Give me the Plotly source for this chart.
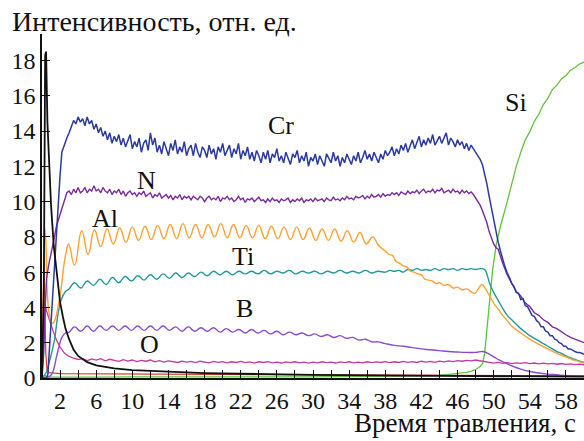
import numpy as np
import plotly.graph_objects as go

# ---------------- data: glow-discharge depth profile ----------------
# Cr: onset, then 0.25 s samples from 2.5 s to 60 s
cr_head_t = [0, 0.5, 0.65, 0.8, 1.0, 1.2, 1.4, 1.6, 1.8, 2.0, 2.2]
cr_head = [0, 0, 0.2, 1.5, 3.4, 5.2, 7.0, 8.6, 9.9, 11.5, 12.8]
cr_body = [
    13.3, 13.6, 13.9, 14.3, 14.6, 14.4, 14.8, 14.5,
    14.7, 14.3, 14.8, 14.4, 14.6, 14.1, 14.4, 13.9,
    14.2, 13.7, 14.0, 13.5, 13.9, 13.3, 13.7, 13.4,
    13.8, 13.2, 13.6, 13.1, 13.5, 13.8, 13.0, 13.4,
    13.1, 13.6, 12.8, 13.3, 13.5, 12.9, 13.9, 13.2,
    13.6, 12.8, 13.2, 12.7, 13.4, 13.0, 12.6, 13.3,
    12.9, 13.5, 12.7, 13.1, 12.8, 13.4, 12.6, 13.0,
    13.2, 12.6, 13.3, 12.8, 12.5, 13.1, 12.9, 12.5,
    13.2, 12.7, 13.0, 12.4, 13.1, 12.8, 13.3, 12.6,
    12.9, 13.2, 12.5, 13.0, 12.7, 13.3, 12.4, 12.9,
    12.6, 13.1, 12.4, 12.8, 12.3, 12.9, 12.6, 12.2,
    12.8, 12.4, 12.9, 12.2, 12.7, 12.5, 13.0, 12.3,
    12.6, 12.2, 12.8, 12.4, 12.1, 12.7, 12.5, 12.9,
    12.2, 12.6, 12.3, 12.8, 12.0, 12.5, 12.3, 12.7,
    12.1, 12.6, 12.3, 12.0, 12.7, 12.4, 12.2, 12.8,
    12.3, 12.6, 12.0, 12.5, 12.2, 12.7, 12.4, 12.1,
    12.6, 12.3, 12.8, 12.2, 12.5, 12.9, 12.4, 12.7,
    12.3, 12.8, 12.5, 12.2, 12.7, 12.4, 12.9, 12.6,
    12.8, 13.1, 12.6, 13.0, 12.7, 13.2, 12.9, 13.3,
    12.8, 13.2, 13.5, 13.0, 13.4, 13.7, 13.1, 13.5,
    13.2, 13.6, 13.3, 13.8, 13.2, 13.5, 13.7, 13.3,
    13.6, 13.9, 13.2, 13.6, 13.4, 13.1, 13.5, 13.2,
    13.4, 13.0, 13.3, 12.9, 13.2, 13.0, 12.8, 12.6,
    12.4, 12.1, 11.6, 11.0, 10.3, 9.6, 8.9, 8.2, 7.7, 7.2, 6.7, 6.3,
    5.95, 5.7, 5.35, 5.2, 4.85, 4.8, 4.45, 4.5, 4.1, 4.05, 3.8, 3.55,
    3.5, 3.25, 3.15, 2.9, 2.9, 2.65, 2.6, 2.4, 2.4, 2.2, 2.15, 2.0,
    1.95, 1.8, 1.8, 1.65, 1.65, 1.55, 1.5, 1.45, 1.45, 1.4, 1.35,
]

# N: onset, 0.25 s samples from 3 s to 47.75 s, then the decay
n_head_t = [0, 0.2, 0.35, 0.5, 0.7, 1.0, 1.3, 1.6, 1.9, 2.2, 2.5, 2.75]
n_head = [0, 1.5, 4.0, 5.6, 6.3, 7.0, 7.8, 8.6, 9.1, 9.5, 10.1, 10.5]
n_body = [
    10.6, 10.4, 10.7, 10.5, 10.8, 10.5, 10.6, 10.8,
    10.5, 10.7, 10.6, 10.9, 10.6, 10.7, 10.5, 10.8,
    10.6, 10.5, 10.7, 10.4, 10.6, 10.5, 10.7, 10.4,
    10.6, 10.3, 10.5, 10.6, 10.4, 10.5, 10.3, 10.5,
    10.4, 10.6, 10.3, 10.4, 10.5, 10.2, 10.4, 10.3,
    10.5, 10.2, 10.3, 10.4, 10.2, 10.35, 10.1, 10.3,
    10.2, 10.4, 10.1, 10.3, 10.2, 10.3, 10.1, 10.3,
    10.2, 10.1, 10.3, 10.2, 10.0, 10.2, 10.3, 10.1,
    10.2, 10.1, 10.3, 10.0, 10.2, 10.15, 10.3, 10.1,
    10.2, 10.0, 10.1, 10.3, 10.1, 10.2, 9.95, 10.15,
    10.1, 10.2, 10.0, 10.1, 10.25, 10.05, 10.1, 9.95,
    10.15, 10.0, 10.2, 10.05, 10.1, 9.95, 10.15, 10.05,
    10.1, 10.2, 9.95, 10.1, 10.0, 10.15, 10.05, 10.2,
    9.95, 10.1, 10.05, 10.15, 10.0, 10.2, 10.05, 10.1,
    10.15, 10.0, 10.2, 10.1, 10.05, 10.25, 10.1, 10.15,
    10.05, 10.2, 10.1, 10.3, 10.15, 10.2, 10.1, 10.3,
    10.2, 10.25, 10.35, 10.15, 10.3, 10.2, 10.4, 10.25,
    10.3, 10.4, 10.25, 10.45, 10.3, 10.4, 10.35, 10.5,
    10.4, 10.5, 10.35, 10.55, 10.45, 10.4, 10.6, 10.45,
    10.55, 10.5, 10.65, 10.45, 10.6, 10.7, 10.5, 10.6,
    10.55, 10.7, 10.5, 10.65, 10.6, 10.75, 10.5, 10.6,
    10.65, 10.5, 10.7, 10.55, 10.6, 10.45, 10.65, 10.5,
    10.6, 10.45, 10.55, 10.4,
]
n_tail_t = [48.0, 48.25, 48.5, 48.75, 49.0, 49.25, 49.5, 49.75, 50.0, 50.25,
            50.5, 50.75, 51.0, 51.5, 52.0, 52.5, 53.0, 53.5, 54.0, 54.5, 55.0,
            55.5, 56.0, 56.5, 57.0, 57.5, 58.0, 58.5, 59.0, 59.5, 60.0]
n_tail = [10.2, 10.0, 9.8, 9.5, 9.2, 8.8, 8.3, 7.9, 7.6, 7.4,
          7.3, 6.9, 6.5, 5.85, 5.4, 4.9, 4.65, 4.25, 4.05, 3.7, 3.55,
          3.3, 3.15, 2.9, 2.8, 2.6, 2.45, 2.3, 2.2, 2.1, 2.0]

# Al: oscillating signal, listed at its crests and troughs
al_t = [0, 0.15, 0.3, 0.42, 0.55, 0.75, 1.0, 1.2, 1.5, 1.8, 2.1, 2.4, 2.7, 2.95, 3.6,
        4.4, 5.1, 5.8, 6.5, 7.2, 7.9, 8.6, 9.3, 10.0, 10.7, 11.4, 12.1, 12.8, 13.5,
        14.2, 14.9, 15.6, 16.3, 17.0, 17.7, 18.4, 19.1, 19.8, 20.5, 21.2, 21.9, 22.6,
        23.3, 24.0, 24.7, 25.4, 26.1, 26.8, 27.5, 28.2, 28.9, 29.6, 30.3, 31.0, 31.7,
        32.4, 33.1, 33.8, 34.5, 35.2, 35.9, 36.6,
        37.2, 37.6, 38.0, 38.4, 38.8, 39.2, 39.6, 40.0, 40.4, 40.8, 41.2, 41.6, 42.0,
        42.4, 42.8, 43.2, 43.6, 44.0, 44.5, 45.0, 45.5, 46.0, 46.5, 47.0, 47.5, 47.9,
        48.3, 48.7, 49.1, 49.5, 50.0, 50.5, 51.0, 51.5, 52.0, 53.0, 54.0, 55.0, 56.0,
        57.0, 58.0, 59.0, 60.0]
al = [0, 4.0, 8.5, 7.8, 5.2, 3.8, 3.2, 3.1, 3.4, 4.1, 5.0, 6.3, 7.2, 7.6, 6.4,
      8.35, 7.0, 8.4, 7.45, 8.45, 7.6, 8.5, 7.7, 8.55, 7.8, 8.6, 7.85, 8.65, 7.9,
      8.7, 7.9, 8.75, 7.95, 8.7, 7.95, 8.7, 8.0, 8.75, 7.95, 8.7, 7.95, 8.65,
      7.95, 8.65, 7.9, 8.6, 7.9, 8.55, 7.85, 8.55, 7.85, 8.5, 7.8, 8.45, 7.8,
      8.45, 7.75, 8.35, 7.7, 8.25, 7.6, 8.0,
      7.55, 7.35, 7.2, 7.0, 6.95, 6.6, 6.5, 6.35, 6.3, 6.05, 6.0, 5.9, 5.85,
      5.6, 5.55, 5.5, 5.35, 5.4, 5.25, 5.3, 5.1, 5.15, 5.0, 5.05, 4.9, 4.8,
      5.05, 5.3, 5.05, 4.7, 4.25, 3.9, 3.55, 3.25, 2.95, 2.55, 2.2, 1.9, 1.65,
      1.4, 1.2, 1.0, 0.85]

# Ti
ti_t = [0, 0.45, 0.8, 1.1, 1.4, 1.6, 1.8, 2.1, 2.6, 3.0,
        3.6, 4.3, 5.0, 5.7, 6.4, 7.1, 7.8, 8.5, 9.2, 9.9, 10.6, 11.3, 12.0, 12.7,
        13.4, 14.1, 14.8, 15.5, 16.2, 16.9, 17.6, 18.3, 19.0, 19.7, 20.4, 21.1,
        21.8, 22.5, 23.2, 23.9, 24.6, 25.3, 26.0, 26.7, 27.4, 28.1, 28.8, 29.5,
        30.2, 30.9, 31.6, 32.3, 33.0, 33.7, 34.4, 35.1, 35.8, 36.5, 37.2,
        38.0, 38.5, 39.0, 39.5, 40.0, 40.5, 41.0, 41.5, 42.0, 42.5, 43.0, 43.5,
        44.0, 44.5, 45.0, 45.5, 46.0, 46.5, 47.0, 47.5, 48.0, 48.5, 49.0,
        49.3, 49.6, 50.0, 50.5, 51.0, 51.5, 52.0, 52.5, 53.0, 53.5, 54.0, 54.5,
        55.0, 55.5, 56.0, 56.5, 57.0, 57.5, 58.0, 58.5, 59.0, 59.5, 60.0]
ti = [0, 0.3, 0.9, 1.5, 2.2, 3.0, 3.7, 4.4, 4.9, 5.05,
      5.4, 5.1, 5.5, 5.25, 5.6, 5.3, 5.7, 5.4, 5.75, 5.5, 5.8, 5.55, 5.85, 5.6,
      5.9, 5.65, 5.95, 5.7, 5.95, 5.75, 6.0, 5.8, 6.05, 5.85, 6.05, 5.85,
      6.05, 5.9, 6.05, 5.9, 6.1, 5.9, 6.05, 5.95, 6.1, 5.9, 6.05, 5.95,
      6.05, 5.9, 6.05, 5.95, 6.1, 5.95, 6.05, 5.95, 6.1, 5.95, 6.05,
      6.0, 6.1, 6.05, 6.1, 6.0, 6.15, 6.1, 6.2, 6.1, 6.15, 6.1, 6.2,
      6.1, 6.2, 6.15, 6.2, 6.1, 6.2, 6.15, 6.2, 6.15, 6.2, 6.15,
      5.8, 5.3, 4.85, 4.4, 3.95, 3.55, 3.3, 3.05, 2.8, 2.6, 2.4, 2.25,
      2.1, 1.95, 1.8, 1.65, 1.5, 1.4, 1.25, 1.15, 1.05, 0.95, 0.9]

# B
b_t = [0, 0.6, 1.0, 1.3, 1.6, 1.9, 2.2, 2.6, 3.0,
       3.6, 4.3, 5.0, 5.7, 6.4, 7.1, 7.8, 8.5, 9.2, 9.9, 10.6, 11.3, 12.0, 12.7,
       13.4, 14.1, 14.8, 15.5, 16.2, 16.9, 17.6, 18.3, 19.0, 19.7, 20.4, 21.1,
       21.8, 22.5, 23.2, 23.9, 24.6, 25.3, 26.0, 26.7, 27.4, 28.1, 28.8, 29.5,
       30.2, 30.9, 31.6, 32.3, 33.0, 33.7, 34.4, 35.1, 35.8, 36.5, 37.2,
       38.0, 39.0, 40.0, 41.0, 42.0, 43.0, 44.0, 45.0, 46.0, 47.0, 48.0, 48.8,
       49.5, 50.0, 50.7, 51.5, 52.2, 53.0, 54.0, 55.0, 56.0, 57.0, 58.0, 59.0, 60.0]
b = [0, 0.05, 0.15, 0.5, 1.2, 1.8, 2.3, 2.55, 2.6,
     2.9, 2.65, 2.95, 2.65, 2.95, 2.7, 2.95, 2.7, 2.95, 2.7, 2.95, 2.7, 2.95, 2.7,
     2.95, 2.7, 2.9, 2.65, 2.9, 2.65, 2.85, 2.65, 2.85, 2.6, 2.8, 2.6,
     2.75, 2.55, 2.75, 2.55, 2.7, 2.5, 2.65, 2.45, 2.6, 2.45, 2.55, 2.4,
     2.5, 2.35, 2.45, 2.3, 2.4, 2.25, 2.3, 2.15, 2.2, 2.05, 2.05,
     1.95, 1.85, 1.8, 1.72, 1.65, 1.6, 1.55, 1.5, 1.47, 1.45, 1.45, 1.5,
     1.35, 1.2, 1.0, 0.8, 0.65, 0.5, 0.37, 0.28, 0.22, 0.18, 0.14, 0.12, 0.1]

# O: onset, then 0.5 s samples from 4 s
o_head_t = [0, 0.2, 0.35, 0.5, 0.8, 1.2, 1.6, 2.0, 2.5, 3.0, 3.5]
o_head = [0, 2.0, 4.2, 3.8, 3.3, 2.7, 2.15, 1.75, 1.4, 1.22, 1.12]
o_body = [
    1.05, 1.1, 0.98, 1.08, 1.02, 1.1, 0.97, 1.06, 1.0, 0.94, 1.04, 0.96,
    1.02, 0.93, 1.0, 0.95, 1.02, 0.92, 0.98, 0.9, 0.97, 0.93, 0.88, 0.96,
    0.9, 0.94, 0.87, 0.95, 0.9, 0.86, 0.94, 0.89, 0.93, 0.86, 0.92, 0.88,
    0.94, 0.87, 0.91, 0.85, 0.92, 0.88, 0.93, 0.86, 0.9, 0.85, 0.91, 0.87,
    0.92, 0.86, 0.9, 0.84, 0.9, 0.86, 0.92, 0.87, 0.9, 0.85, 0.91, 0.87,
    0.92, 0.86, 0.9, 0.86, 0.92, 0.87, 0.91, 0.88, 0.93, 0.87, 0.92, 0.88,
    0.94, 0.89, 0.93, 0.88, 0.95, 0.9, 0.94, 0.89, 0.96, 0.91, 0.97, 0.93,
    0.98, 0.95, 1.0, 0.97, 1.02, 0.98, 0.95, 0.88, 0.84, 0.88, 0.83, 0.87,
    0.82, 0.86, 0.83, 0.87, 0.82, 0.85, 0.8, 0.84, 0.8, 0.83, 0.78, 0.82,
    0.77, 0.8, 0.76, 0.79, 0.75,
]

# Si
si_t = [0, 0.3, 0.6, 2, 6, 10, 14, 18, 22, 26, 30, 34, 38, 40, 42, 43, 44, 45, 46,
        47, 47.5, 48, 48.5, 48.8, 49.0, 49.3, 49.6, 49.9, 50.3, 50.8, 51.4, 52.0,
        52.5, 53.0, 53.5, 54.0, 54.5, 55.0, 55.5, 56.0, 56.5, 57.0, 57.5, 58.0,
        58.5, 59.0, 59.5, 60.0]
si = [0, 0.15, 0.05, 0.06, 0.05, 0.06, 0.05, 0.06, 0.05, 0.06, 0.06, 0.07, 0.07, 0.08,
      0.1, 0.12, 0.15, 0.2, 0.25, 0.32, 0.38, 0.48, 0.65, 0.85, 1.4, 2.9, 4.5, 6.2,
      7.6, 8.7, 9.8, 11.0, 12.0, 12.8, 13.5, 13.95, 14.55, 14.95, 15.5, 15.85, 16.35,
      16.6, 16.95, 17.15, 17.45, 17.6, 17.8, 17.9]

# black trace: sharp surface peak and long tail
k_t = [0, 0.2, 0.35, 0.45, 0.6, 0.8, 1.0, 1.3, 1.5, 1.8, 2.0, 2.3, 2.6, 3.0, 3.5,
       4, 5, 6, 8, 10, 14, 18, 22, 26, 30, 40, 50, 60]
k = [0, 5.0, 18.3, 18.5, 14.5, 11.8, 9.8, 7.5, 6.5, 5.0, 4.3, 3.5, 2.8, 2.2, 1.6,
     1.25, 0.9, 0.72, 0.55, 0.45, 0.35, 0.28, 0.24, 0.2, 0.18, 0.13, 0.1, 0.08]

# red trace: surface spike and low background
r_t = [0, 0.12, 0.22, 0.32, 0.42, 0.55, 0.8, 2, 10, 20, 30, 40, 50, 60]
r = [0, 3.5, 6.8, 4.0, 1.4, 0.5, 0.3, 0.25, 0.22, 0.2, 0.18, 0.16, 0.14, 0.12]

# curve labels
lab_text = ["Cr", "N", "Al", "Ti", "B", "O", "Si"]
lab_x = [26.5, 11.6, 7.0, 22.3, 22.4, 11.9, 52.5]
lab_y = [14.3, 11.2, 9.05, 6.9, 3.95, 1.9, 15.6]

x_ticks = list(range(0, 61, 2))
x_ticktext = [str(v) if v % 4 == 2 else "" for v in x_ticks]
y_ticks = list(range(0, 19, 2))

# ---------------- figure ----------------
FONT = "'Times New Roman', 'Liberation Serif', 'DejaVu Serif', serif"


def join(t_head, v_head, t_body, v_body):
    return list(t_head) + list(t_body), list(v_head) + list(v_body)


cr_x, cr_y = join(cr_head_t, cr_head, 2.5 + 0.25 * np.arange(len(cr_body)), cr_body)
n_x, n_y = join(n_head_t, n_head, 3.0 + 0.25 * np.arange(len(n_body)), n_body)
n_x, n_y = join(n_x, n_y, n_tail_t, n_tail)
o_x, o_y = join(o_head_t, o_head, 4.0 + 0.5 * np.arange(len(o_body)), o_body)

traces = [
    (r_t, r, "#e23a3a", 1.2, "linear"),
    (si_t, si, "#5fc23f", 1.3, "linear"),
    (o_x, o_y, "#c2399f", 1.3, "linear"),
    (b_t, b, "#8a4ccc", 1.4, "spline"),
    (ti_t, ti, "#229996", 1.4, "spline"),
    (al_t, al, "#ffa030", 1.4, "spline"),
    (n_x, n_y, "#7a2a9c", 1.4, "linear"),
    (cr_x, cr_y, "#2b3a9e", 1.5, "linear"),
    (k_t, k, "#111111", 1.8, "linear"),
]

fig = go.Figure()
for xs, ys, col, w, shape in traces:
    line = dict(color=col, width=w, shape=shape)
    if shape == "spline":
        line["smoothing"] = 1.3
    fig.add_trace(go.Scatter(x=xs, y=ys, mode="lines", line=line,
                             hoverinfo="skip", showlegend=False))

for txt, lx, ly in zip(lab_text, lab_x, lab_y):
    fig.add_annotation(x=lx, y=ly, text=txt, showarrow=False,
                       font=dict(family=FONT, size=26, color="#111"))

fig.add_annotation(xref="paper", yref="paper", x=-0.059, y=1.035,
                   xanchor="left", yanchor="middle", showarrow=False,
                   text="Интенсивность, отн. ед.",
                   font=dict(family=FONT, size=28, color="#111"))
fig.add_annotation(xref="paper", yref="paper", x=0.989, y=-0.1308,
                   xanchor="right", yanchor="middle", showarrow=False,
                   text="Время травления, с",
                   font=dict(family=FONT, size=27, color="#111"))

axis_common = dict(showline=True, linecolor="#111", linewidth=1.5,
                   ticks="inside", ticklen=8, tickwidth=1.3, tickcolor="#111",
                   showgrid=False, zeroline=False,
                   tickfont=dict(family=FONT, size=24, color="#111"))

fig.update_xaxes(range=[0, 60], tickmode="array", tickvals=x_ticks,
                 ticktext=x_ticktext, **axis_common)
fig.update_yaxes(range=[0, 19.5], tickmode="array", tickvals=y_ticks,
                 **axis_common)

fig.update_layout(width=584, height=441,
                  margin=dict(l=42, r=0, t=34, b=63),
                  paper_bgcolor="white", plot_bgcolor="white")

fig.write_html("out.html")
